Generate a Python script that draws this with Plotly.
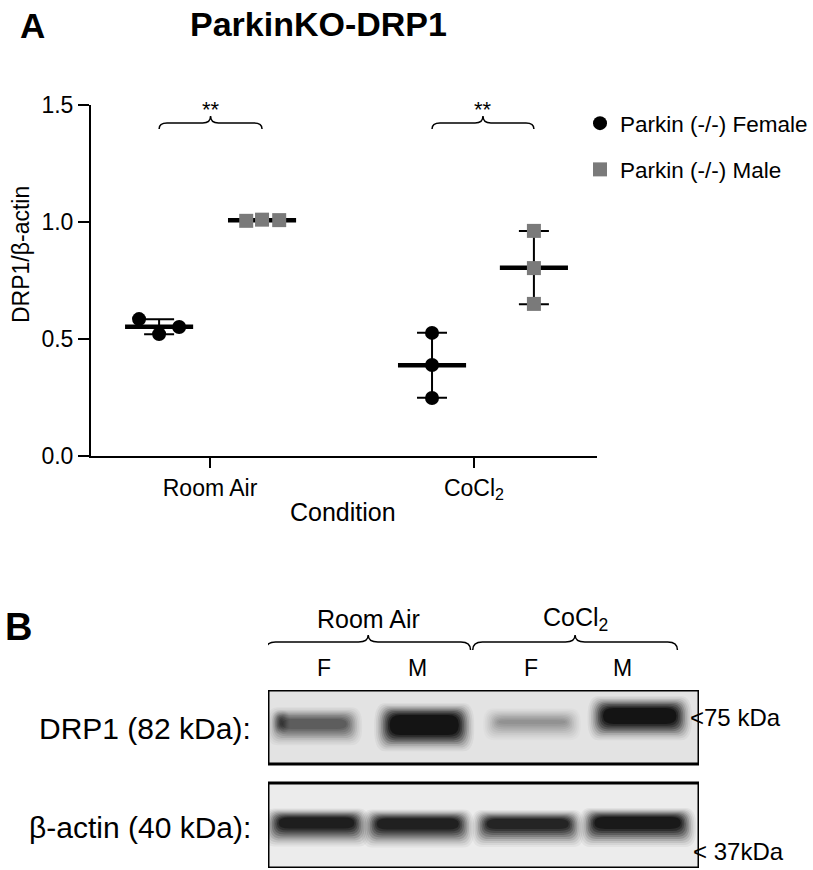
import numpy as np
import plotly.graph_objects as go

W, H = 813, 870
FONT = "Liberation Sans, Arial, Helvetica, sans-serif"

# ---------------- data ----------------
conditions = ["Room Air", "CoCl<sub>2</sub>"]
condition_pos = [1, 2]
female_room_air = [0.585, 0.521, 0.551]
male_room_air = [1.005, 1.010, 1.008]
female_cocl2 = [0.526, 0.389, 0.248]
male_cocl2 = [0.962, 0.803, 0.650]
y_ticks = [0.0, 0.5, 1.0, 1.5]
y_tick_labels = ["0.0", "0.5", "1.0", "1.5"]
significance = ["**", "**"]
series_names = ["Parkin (-/-) Female", "Parkin (-/-) Male"]

blot_groups = ["Room Air", "CoCl<sub>2</sub>"]
blot_lanes = ["F", "M", "F", "M"]
blot_rows = ["DRP1 (82 kDa):", "β-actin (40 kDa):"]
size_markers = ["&lt;75 kDa", "&lt; 37kDa"]
drp1_band_intensity = [0.62, 0.97, 0.36, 0.97]
actin_band_intensity = [0.93, 0.92, 0.90, 0.95]

# ---------------- layout / style constants ----------------
PX_L, PX_R, PY_T, PY_B = 91, 597, 105, 456
X_RANGE = [0.549, 2.466]
group_offset = {"F": [-0.193, -0.159], "M": [0.197, 0.227]}
jitter = {"F": [[-0.076, 0.0, 0.076], [0, 0, 0]],
          "M": [[-0.060, 0.0, 0.065], [0, 0, 0]]}
MEAN_HALF = 0.129
GRAY = "#7a7a7a"


def pxx(px):
    return px / W


def pxy(py):
    return 1 - py / H


fig = go.Figure()

series = {"F": [female_room_air, female_cocl2], "M": [male_room_air, male_cocl2]}
style = {"F": dict(symbol="circle", color="black"), "M": dict(symbol="square", color=GRAY)}

# mean lines and SD error bars
for key in ["F", "M"]:
    for ci, vals in enumerate(series[key]):
        gx = condition_pos[ci] + group_offset[key][ci]
        m = float(np.mean(vals))
        sd = float(np.std(vals, ddof=1))
        fig.add_trace(go.Scatter(x=[gx - MEAN_HALF, gx + MEAN_HALF], y=[m, m], mode="lines",
                                 line=dict(color="black", width=4.5), showlegend=False,
                                 hoverinfo="skip"))
        fig.add_trace(go.Scatter(x=[gx], y=[m], mode="markers", marker=dict(size=1, opacity=0),
                                 error_y=dict(type="data", array=[sd], color="black",
                                              thickness=2, width=15),
                                 showlegend=False, hoverinfo="skip"))

# individual points
for si, key in enumerate(["F", "M"]):
    xs, ys = [], []
    for ci, vals in enumerate(series[key]):
        gx = condition_pos[ci] + group_offset[key][ci]
        for j, v in enumerate(vals):
            xs.append(gx + jitter[key][ci][j])
            ys.append(v)
    fig.add_trace(go.Scatter(x=xs, y=ys, mode="markers", name=series_names[si],
                             legendgroup=key,
                             marker=dict(symbol=style[key]["symbol"], color=style[key]["color"],
                                         size=14, line=dict(width=0))))

annotations = []
shapes = []


def ann(px, py, text, size, bold=False, xanchor="center", yanchor="middle", angle=0, **kw):
    t = f"<b>{text}</b>" if bold else text
    annotations.append(dict(x=pxx(px), y=pxy(py), xref="paper", yref="paper", text=t,
                            showarrow=False, xanchor=xanchor, yanchor=yanchor, textangle=angle,
                            font=dict(family=FONT, size=size, color="black"), **kw))


def brace_path(x0, x1, xm, yb, down, up, r):
    # x in axis units, y in paper units (yb baseline, down/up in paper units)
    return (f"M {x0},{yb - down} Q {x0},{yb} {x0 + r},{yb} L {xm - r},{yb} "
            f"Q {xm},{yb} {xm},{yb + up} Q {xm},{yb} {xm + r},{yb} "
            f"L {x1 - r},{yb} Q {x1},{yb} {x1},{yb - down}")


# significance braces (panel A)
for ci in range(2):
    xa = condition_pos[ci] + group_offset["F"][ci]
    xb = condition_pos[ci] + group_offset["M"][ci]
    xm = (xa + xb) / 2
    yb = pxy(123)
    shapes.append(dict(type="path", xref="x", yref="paper",
                       path=brace_path(xa, xb, xm, yb, 6 / H, 7 / H, 0.03),
                       line=dict(color="black", width=1.5)))
    annotations.append(dict(x=xm, y=pxy(110), xref="x", yref="paper", text=significance[ci],
                            showarrow=False, xanchor="center", yanchor="middle",
                            font=dict(family=FONT, size=22, color="black")))

# panel A texts
ann(32, 26, "A", 35, bold=True)
ann(318, 24, "ParkinKO-DRP1", 34, bold=True)
ann(21, 255, "DRP1/β-actin", 23, angle=-90)
ann(343, 512, "Condition", 25)

# ---------------- panel B: western blot ----------------
LANE_RANGE = [0.55, 4.55]
BOX_TOP, BOX_BOT = 690, 868
drp1_box = [0, 74]
actin_box = [93, 178]


def rrect(x0, x1, y0, y1, rx, ry):
    return (f"M {x0 + rx},{y0} L {x1 - rx},{y0} Q {x1},{y0} {x1},{y0 + ry} "
            f"L {x1},{y1 - ry} Q {x1},{y1} {x1 - rx},{y1} L {x0 + rx},{y1} "
            f"Q {x0},{y1} {x0},{y1 - ry} L {x0},{y0 + ry} Q {x0},{y0} {x0 + rx},{y0} Z")


# blot backgrounds
for (y0, y1), bg in [(drp1_box, "#e3e3e3"), (actin_box, "#ececec")]:
    shapes.append(dict(type="rect", xref="x2", yref="y2", x0=LANE_RANGE[0], x1=LANE_RANGE[1],
                       y0=y0, y1=y1, fillcolor=bg, line=dict(width=0), layer="below"))

FRAC = [0.05, 0.11, 0.19, 0.29, 0.41, 0.54, 0.67, 0.79, 0.9, 1.0]


def band(cx, cy, w, h, intensity, spread_x=0.016, up=1.3, down=1.8):
    n = len(FRAC)
    prev = 0.0
    for k, f in enumerate(FRAC):
        target = intensity * f
        a = 1 - (1 - target) / (1 - prev)
        prev = target
        e = n - 1 - k
        x0, x1 = cx - w / 2 - e * spread_x, cx + w / 2 + e * spread_x
        y0, y1 = cy - h / 2 - e * up, cy + h / 2 + e * down
        shapes.append(dict(type="path", xref="x2", yref="y2",
                           path=rrect(x0, x1, y0, y1, min(0.1, (x1 - x0) / 2.5), (y1 - y0) / 2.2),
                           fillcolor=f"rgba(15,15,15,{a:.3f})", line=dict(width=0)))


drp1_geom = [(-0.02, 34, 0.60, 10), (0.0, 35, 0.64, 20), (0.0, 32, 0.62, 4), (0.0, 26, 0.68, 16)]
actin_geom = [(0.0, 133, 0.70, 11), (-0.06, 134, 0.76, 11), (-0.04, 134, 0.76, 10), (-0.02, 133, 0.80, 12)]
for i in range(4):
    dx, cy, w, h = drp1_geom[i]
    band(i + 1 + dx, cy, w, h, drp1_band_intensity[i])
    dx, cy, w, h = actin_geom[i]
    band(i + 1 + dx, cy, w, h, actin_band_intensity[i], up=1.0, down=2.0)
# darker spot at the left edge of lane 1 DRP1 band
band(0.67, 32, 0.02, 6, 0.55, spread_x=0.008, up=1.0, down=1.0)

# blot frames
for (y0, y1) in [drp1_box, actin_box]:
    shapes.append(dict(type="rect", xref="x2", yref="y2", x0=LANE_RANGE[0], x1=LANE_RANGE[1],
                       y0=y0, y1=y1, fillcolor="rgba(0,0,0,0)", line=dict(color="black", width=3)))

# group braces above blot
brace_x = [(0.53, 2.43), (2.45, 4.35)]
for gi in range(2):
    a, b = brace_x[gi]
    m = (a + b) / 2
    shapes.append(dict(type="path", xref="x2", yref="paper",
                       path=brace_path(a, b, m, pxy(642), 8 / H, 7 / H, 0.09),
                       line=dict(color="black", width=1.5)))
    annotations.append(dict(x=m, y=pxy(619), xref="x2", yref="paper", text=blot_groups[gi],
                            showarrow=False, xanchor="center", yanchor="middle",
                            font=dict(family=FONT, size=25, color="black")))

lane_label_x = [1.07, 1.94, 2.99, 3.84]
for i, lab in enumerate(blot_lanes):
    annotations.append(dict(x=lane_label_x[i], y=pxy(668), xref="x2", yref="paper", text=lab,
                            showarrow=False, xanchor="center", yanchor="middle",
                            font=dict(family=FONT, size=23, color="black")))

ann(18, 627, "B", 38, bold=True)
ann(253, 728, blot_rows[0], 30, xanchor="right")
ann(253, 827, blot_rows[1], 30, xanchor="right")
ann(688, 717, size_markers[0], 24, xanchor="left")
ann(691, 851, size_markers[1], 24, xanchor="left")

fig.update_layout(
    width=W, height=H,
    margin=dict(l=0, r=0, t=0, b=0, autoexpand=False),
    paper_bgcolor="white", plot_bgcolor="white",
    font=dict(family=FONT, color="black"),
    showlegend=True,
    legend=dict(x=pxx(580), y=pxy(102), xanchor="left", yanchor="top",
                font=dict(family=FONT, size=22.5, color="black"),
                bgcolor="rgba(0,0,0,0)", tracegroupgap=14, traceorder="grouped",
                itemsizing="trace"),
    xaxis=dict(domain=[pxx(PX_L), pxx(PX_R)], range=X_RANGE, tickvals=condition_pos,
               ticktext=conditions, ticks="outside", ticklen=10, tickwidth=2,
               tickcolor="black", showline=True, linewidth=2, linecolor="black",
               showgrid=False, zeroline=False, tickfont=dict(family=FONT, size=23),
               anchor="y", fixedrange=True),
    yaxis=dict(domain=[pxy(PY_B), pxy(PY_T)], range=[0, 1.5], tickvals=y_ticks,
               ticktext=y_tick_labels, ticks="outside", ticklen=11, tickwidth=2,
               tickcolor="black", showline=True, linewidth=2, linecolor="black",
               showgrid=False, zeroline=False, tickfont=dict(family=FONT, size=23),
               anchor="x", fixedrange=True),
    xaxis2=dict(domain=[pxx(268), pxx(699)], range=LANE_RANGE, visible=False, anchor="y2",
                fixedrange=True),
    yaxis2=dict(domain=[pxy(BOX_BOT), pxy(BOX_TOP)], range=[BOX_BOT - BOX_TOP, 0],
                visible=False, anchor="x2", fixedrange=True),
    shapes=shapes,
    annotations=annotations,
)

fig.write_html("out.html", config={"displayModeBar": False},
               post_script="document.body.style.margin='0';document.body.style.overflow='hidden';")
